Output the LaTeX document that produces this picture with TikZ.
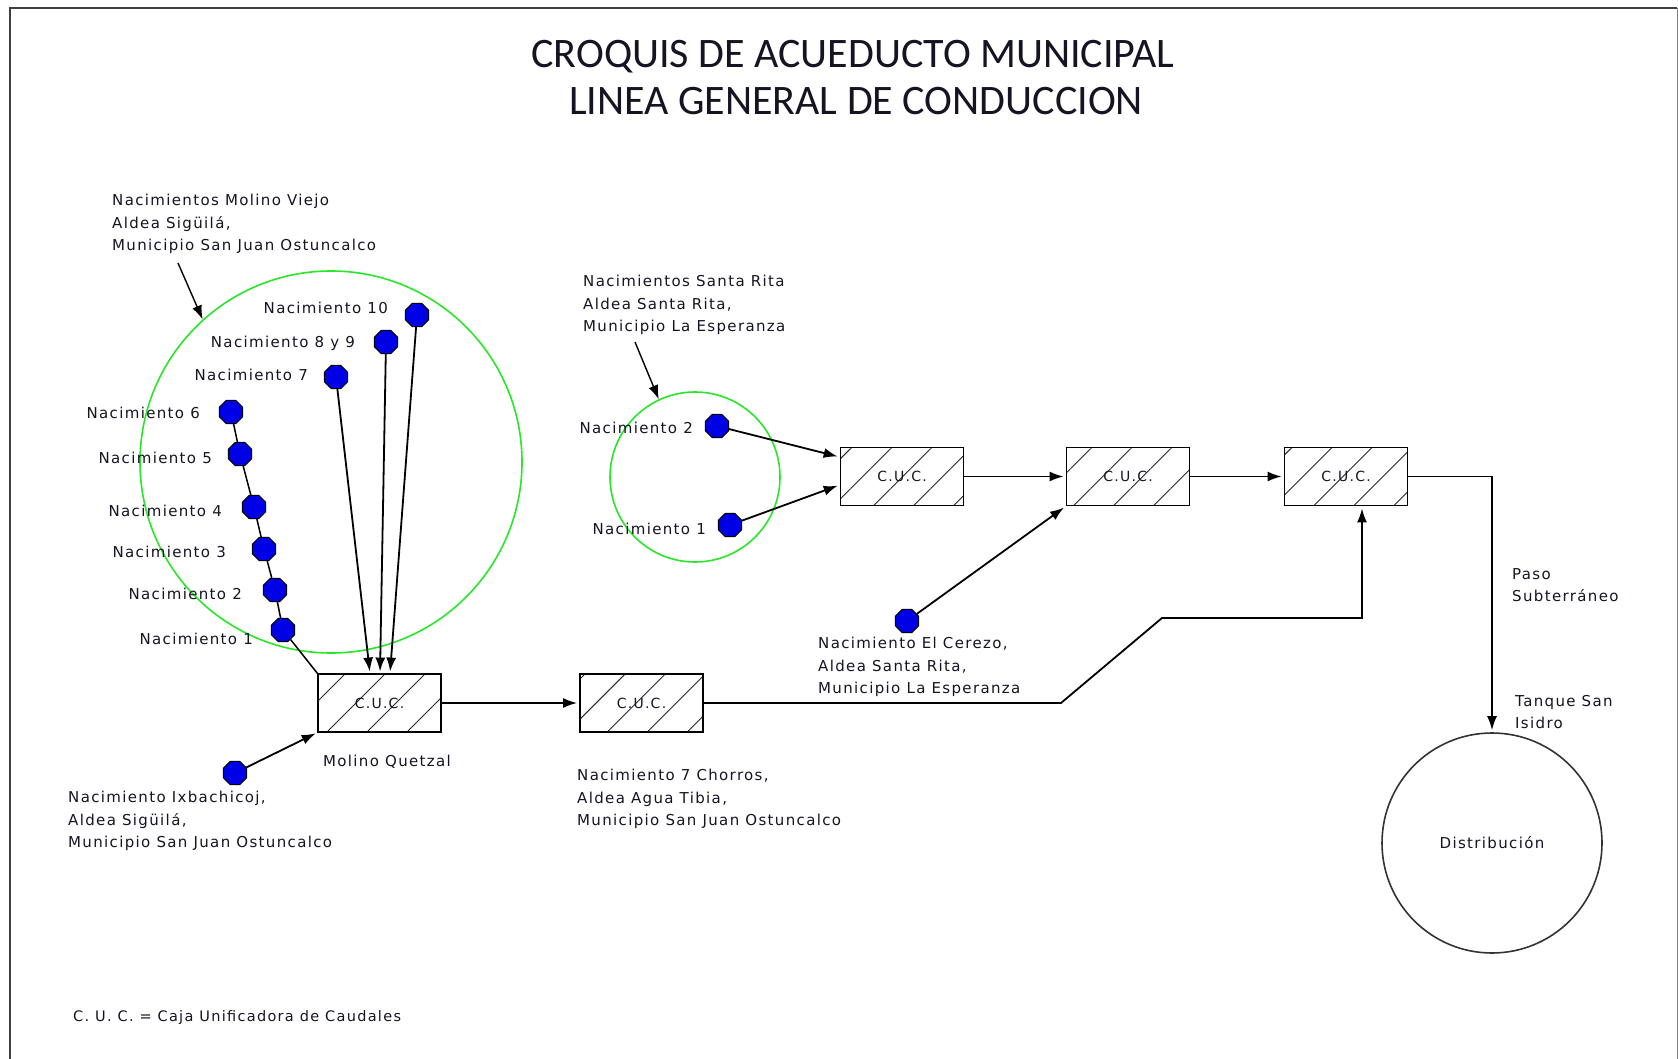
\documentclass[tikz,border=0pt]{standalone}
\usepackage{fontspec}
\setmainfont[LetterSpace=9]{DejaVu Sans}
\newfontfamily\titlefont{Carlito}
\usetikzlibrary{arrows.meta,shapes.geometric,patterns.meta}
\definecolor{dotblue}{RGB}{0,0,230}
\definecolor{ringgreen}{RGB}{40,230,40}
\definecolor{txt}{RGB}{20,20,35}
\begin{document}
\begin{tikzpicture}[x=1pt,y=-1pt,
  lbl/.style={font=\fontsize{15}{22.5}\selectfont, inner sep=0pt, text=txt},
  ml/.style={lbl, align=left, anchor=west},
  dlbl/.style={lbl, anchor=east},
  spring/.style={regular polygon, regular polygon sides=8, minimum size=25pt, inner sep=0pt, fill=dotblue, draw=black, line width=1pt},
  cuc/.style={rectangle, draw=black, line width=1.8pt, minimum width=123pt, minimum height=58pt, inner sep=0pt,
    pattern={Lines[angle=45,distance=28.3pt,line width=0.9pt]}, pattern color=black!85,
    font=\fontsize{14}{16}\selectfont, text=txt},
  pipe/.style={line width=1.8pt, draw=black},
  arr/.style={pipe, -{Latex[length=14pt,width=10pt]}, shorten >=2pt},
  ring/.style={circle, draw=ringgreen, line width=1.6pt, inner sep=0pt}
]
\useasboundingbox (0,0) rectangle (1678,1059);
% frame
\draw[line width=2pt, draw=black!75] (10,1059) -- (10,8) -- (1677,8);
\draw[line width=1pt, draw=black!50] (1677,8) -- (1677,1059);

% title
\node[font=\titlefont\fontsize{42}{46}\selectfont, inner sep=0pt, text=txt] (t1) at (853,57) {CROQUIS DE ACUEDUCTO MUNICIPAL};
\node[font=\titlefont\fontsize{42}{46}\selectfont, inner sep=0pt, text=txt] (t2) at (856,101) {LINEA GENERAL DE CONDUCCION};

% green rings
\node[ring, minimum size=382pt] (gc1) at (331,462) {};
\node[ring, minimum size=170pt] (gc2) at (695,477) {};

% boxes
\node[cuc] (b1) at (379.5,703) {C.U.C.};
\node[cuc] (b2) at (641.5,703) {C.U.C.};
\node[cuc] (b3) at (902,476.5) {C.U.C.};
\node[cuc] (b4) at (1128,476.5) {C.U.C.};
\node[cuc] (b5) at (1346,476.5) {C.U.C.};

% distribution
\node[circle, draw=black!80, line width=1.6pt, minimum size=220pt, inner sep=0pt, lbl] (dist) at (1492,843) {Distribución};

% springs Molino Viejo
\node[spring] (m10) at (417,315) {};
\node[spring] (m89) at (386,342) {};
\node[spring] (m7) at (336,377) {};
\node[spring] (m6) at (231,412) {};
\node[spring] (m5) at (240,454) {};
\node[spring] (m4) at (254,507) {};
\node[spring] (m3) at (264,549) {};
\node[spring] (m2) at (275,590) {};
\node[spring] (m1) at (283,630) {};
\node[spring] (ix) at (235,773) {};
% springs Santa Rita
\node[spring] (s2) at (717,426) {};
\node[spring] (s1) at (730,525) {};
\node[spring] (ce) at (907,621) {};

% spring labels
\node[dlbl] (lm10) at (388,308) {Nacimiento 10};
\node[dlbl] (lm89) at (355,343) {Nacimiento 8 y 9};
\node[dlbl] (lm7) at (308,375) {Nacimiento 7};
\node[dlbl] (lm6) at (200,413) {Nacimiento 6};
\node[dlbl] (lm5) at (212,458) {Nacimiento 5};
\node[dlbl] (lm4) at (222,511) {Nacimiento 4};
\node[dlbl] (lm3) at (226,552) {Nacimiento 3};
\node[dlbl] (lm2) at (242,594) {Nacimiento 2};
\node[dlbl] (lm1) at (253,639) {Nacimiento 1};
\node[dlbl] (ls2) at (693,428) {Nacimiento 2};
\node[dlbl] (ls1) at (706,529) {Nacimiento 1};

% block labels
\node[ml] (lmv) at (112,224) {Nacimientos Molino Viejo\\Aldea Sigüilá,\\Municipio San Juan Ostuncalco};
\node[ml] (lsr) at (583,305) {Nacimientos Santa Rita\\Aldea Santa Rita,\\Municipio La Esperanza};
\node[ml] (lce) at (818,667) {Nacimiento El Cerezo,\\Aldea Santa Rita,\\Municipio La Esperanza};
\node[ml] (lix) at (68,821) {Nacimiento Ixbachicoj,\\Aldea Sigüilá,\\Municipio San Juan Ostuncalco};
\node[ml] (l7c) at (577,799) {Nacimiento 7 Chorros,\\Aldea Agua Tibia,\\Municipio San Juan Ostuncalco};
\node[lbl] (lmq) at (387,762) {Molino Quetzal};
\node[ml] (lps) at (1512,585) {Paso\\Subterráneo};
\node[ml] (lts) at (1515,712) {Tanque San\\Isidro};
\node[lbl, anchor=west, font=\fontsize{14.5}{16}\selectfont] (leg) at (73,1017) {C. U. C. = Caja Unificadora de Caudales};

% label pointer arrows
\coordinate (mvtail) at (178,263);
\coordinate (srtail) at (635,342);
\draw[arr, line width=1.4pt, shorten >=0pt] (mvtail) -- (gc1.132);
\draw[arr, line width=1.4pt, shorten >=0pt] (srtail) -- (gc2.115);

% connectors Molino Viejo
\draw[pipe, line width=1.5pt] (m6) -- (m5) -- (m4) -- (m3) -- (m2) -- (m1) -- (b1.north west);
\draw[arr] (m7) -- ([xshift=-9.5pt]b1.north);
\draw[arr] (m89) -- ([xshift=0.5pt]b1.north);
\draw[arr] (m10) -- ([xshift=10.5pt]b1.north);
\draw[arr] (ix) -- (b1.south west);
\draw[arr] (b1.east) -- (b2.west);

% Santa Rita
\draw[arr] (s2) -- ([yshift=19.5pt]b3.west);
\draw[arr] (s1) -- ([yshift=-8.5pt]b3.west);
\draw[arr] (b3.east) -- (b4.west);
\draw[arr] (ce) -- (b4.south west);
\draw[arr] (b4.east) -- (b5.west);

% 7 Chorros line to last box
\draw[arr] (b2.east) -- (1061,703) -- (1162,618) -- (1362,618) -- ([xshift=16pt]b5.south);

% to distribution
\draw[arr] (b5.east) -| (dist.north);
\end{tikzpicture}
\end{document}
